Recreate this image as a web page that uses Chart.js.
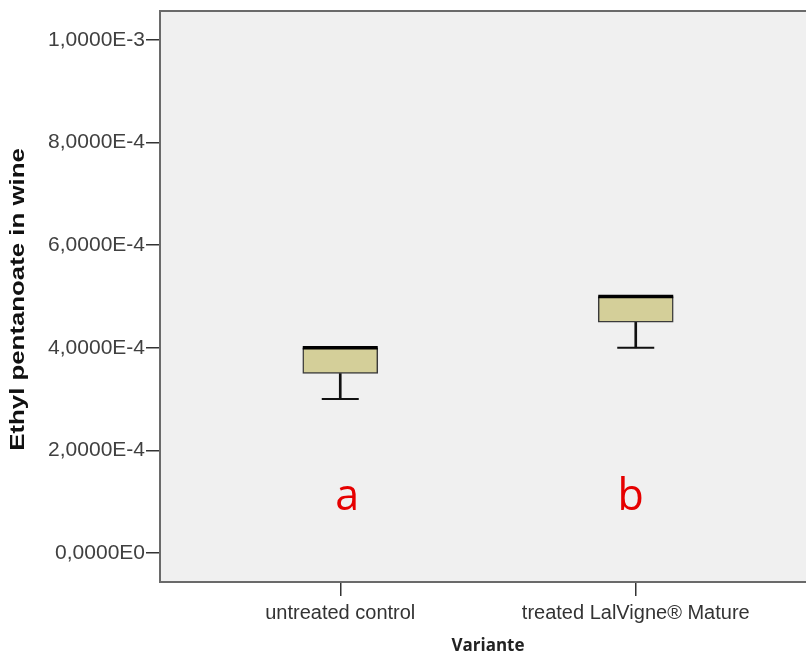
<!DOCTYPE html>
<html>
<head>
<meta charset="utf-8">
<script src="https://cdn.jsdelivr.net/npm/chart.js@4/dist/chart.umd.min.js"></script>
<style>
  html, body { margin: 0; padding: 0; background: #ffffff; overflow: hidden; }
  #wrap { position: relative; width: 816px; height: 656px; }
</style>
</head>
<body>
<div id="wrap"><canvas id="c"></canvas></div>
<script>
// ---- data ----
const categories = ['untreated control', 'treated LalVigne® Mature'];
const minValues = [3.0e-4, 4.0e-4];
const q1Values = [3.5e-4, 4.5e-4];
const medianValues = [4.0e-4, 5.0e-4];
const q3Values = [4.0e-4, 5.0e-4];
const maxValues = [4.0e-4, 5.0e-4];
const groupLetters = ['a', 'b'];
const letterValue = 0.84e-4;
const yTicks = [0, 2e-4, 4e-4, 6e-4, 8e-4, 1e-3];
const yTickLabels = ['0,0000E0', '2,0000E-4', '4,0000E-4', '6,0000E-4', '8,0000E-4', '1,0000E-3'];
const yTitle = 'Ethyl pentanoate in wine';
const xTitle = 'Variante';

const xPos = categories.map((c, i) => i + 1);

const boxData = xPos.map((x, i) => ({ x: x, y: [q1Values[i], q3Values[i]] }));
const lowWhiskerData = xPos.map((x, i) => ({ x: x, y: [minValues[i], q1Values[i]] }));
const highWhiskerData = xPos.map((x, i) => ({ x: x, y: [q3Values[i], maxValues[i]] }));
const medianData = xPos.map((x, i) => ({ x: x, y: medianValues[i] }));
const capData = xPos.map((x, i) => ({ x: x, y: minValues[i] }))
  .concat(xPos.map((x, i) => ({ x: x, y: maxValues[i] })));

const plotDecor = {
  id: 'plotDecor',
  beforeDraw(chart) {
    const { ctx, chartArea: a } = chart;
    ctx.save();
    ctx.fillStyle = '#f0f0f0';
    ctx.fillRect(a.left, a.top, a.right - a.left, a.bottom - a.top);
    ctx.restore();
  },
  afterDraw(chart) {
    const { ctx, chartArea: a, scales } = chart;
    ctx.save();
    ctx.strokeStyle = '#6a6a6a';
    ctx.lineWidth = 2;
    ctx.beginPath();
    ctx.moveTo(a.left - 1, a.top);
    ctx.lineTo(a.right, a.top);
    ctx.stroke();
    // y-axis title (SPSS output draws it horizontally stretched)
    ctx.save();
    ctx.translate(18, (a.top + a.bottom) / 2 + 3);
    ctx.rotate(-Math.PI / 2);
    ctx.scale(1.29, 1);
    ctx.fillStyle = '#111111';
    ctx.font = 'bold 20px "Liberation Sans", Arial, sans-serif';
    ctx.textAlign = 'center';
    ctx.textBaseline = 'middle';
    ctx.fillText(yTitle, 0, 0);
    ctx.restore();
    // group letters
    const offsets = [7, -5];
    ctx.fillStyle = '#e60000';
    ctx.font = '43px "Open Sans", sans-serif';
    ctx.textAlign = 'center';
    ctx.textBaseline = 'alphabetic';
    groupLetters.forEach((L, i) => {
      const px = scales.x.getPixelForValue(xPos[i]) + offsets[i];
      const py = scales.y.getPixelForValue(letterValue);
      ctx.fillText(L, px, py);
    });
    ctx.restore();
  }
};

new Chart(document.getElementById('c'), {
  type: 'bar',
  data: {
    datasets: [
      {
        type: 'line', label: 'median', data: medianData, showLine: false,
        pointStyle: 'line', pointRadius: 37.5, pointHoverRadius: 37.5,
        borderColor: '#000000', borderWidth: 3.5, order: 0
      },
      {
        type: 'line', label: 'caps', data: capData, showLine: false,
        pointStyle: 'line', pointRadius: 18.5, pointHoverRadius: 18.5,
        borderColor: '#111111', borderWidth: 2, order: 1
      },
      {
        label: 'box', data: boxData, backgroundColor: '#d4cf99',
        borderColor: '#3a3a3a', borderWidth: 1.5, borderSkipped: false,
        barThickness: 75, order: 2
      },
      {
        label: 'whiskerLow', data: lowWhiskerData, backgroundColor: '#111111',
        borderWidth: 0, barThickness: 2, order: 3
      },
      {
        label: 'whiskerHigh', data: highWhiskerData, backgroundColor: '#111111',
        borderWidth: 0, barThickness: 2, order: 3
      }
    ]
  },
  options: {
    responsive: true,
    maintainAspectRatio: false,
    animation: false,
    events: [],
    datasets: { bar: { grouped: false } },
    layout: { autoPadding: false, padding: { top: 11, right: 0, bottom: 0, left: 0 } },
    plugins: { legend: { display: false }, tooltip: { enabled: false } },
    scales: {
      x: {
        type: 'linear',
        offset: false,
        min: 0.39, max: 2.61,
        afterBuildTicks: (s) => { s.ticks = xPos.map(v => ({ value: v })); },
        afterFit: (s) => { s.height = 74; s.paddingLeft = 0; s.paddingRight = 0; },
        ticks: {
          autoSkip: false, maxRotation: 0, padding: 5,
          color: '#333333',
          font: { family: '"Liberation Sans", Arial, sans-serif', size: 20 },
          callback: (v) => categories[Math.round(v) - 1]
        },
        grid: { offset: false, drawOnChartArea: false, drawTicks: true, tickLength: 14, color: '#333333', lineWidth: 1.5 },
        border: { display: true, color: '#6a6a6a', width: 2 },
        title: {
          display: true, text: xTitle, color: '#222222',
          font: { family: '"Open Sans", sans-serif', size: 17, weight: 'bold' },
          padding: { top: 0, bottom: 0 }
        }
      },
      y: {
        type: 'linear',
        min: -5.65e-5, max: 1.0565e-3,
        afterBuildTicks: (s) => { s.ticks = yTicks.map(v => ({ value: v })); },
        afterFit: (s) => { s.width = 160; s.paddingTop = 0; s.paddingBottom = 0; },
        ticks: {
          padding: 1, color: '#404040',
          font: { family: '"Liberation Sans", Arial, sans-serif', size: 21 },
          callback: (v) => { const i = yTicks.findIndex(t => Math.abs(t - v) < 1e-9); return i >= 0 ? yTickLabels[i] : ''; }
        },
        grid: { drawOnChartArea: false, drawTicks: true, tickLength: 14, color: '#333333', lineWidth: 1.5 },
        border: { display: true, color: '#6a6a6a', width: 2 },
        title: { display: false }
      }
    }
  },
  plugins: [plotDecor]
});
</script>
</body>
</html>
